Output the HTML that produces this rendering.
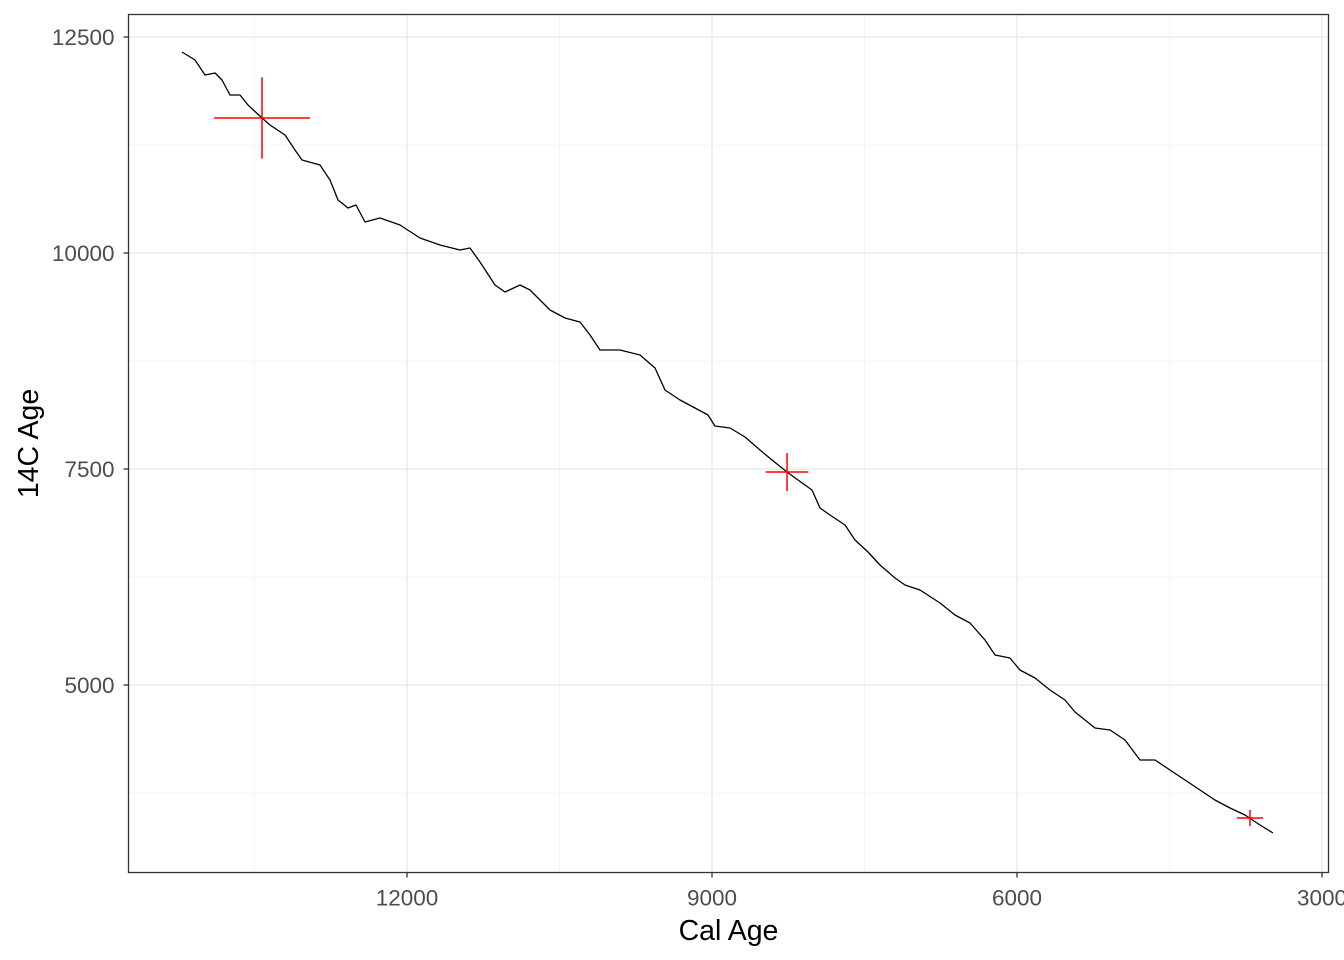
<!DOCTYPE html>
<html><head><meta charset="utf-8"><style>
html,body{margin:0;padding:0;background:#fff;}
svg{display:block;font-family:"Liberation Sans",Arial,sans-serif;}
</style></head><body>
<svg id="chart" width="1344" height="960" viewBox="0 0 1344 960"></svg>
<script>
const calAge=[14213,14085,13987,13888,13820,13741,13643,13564,13426,13348,13200,13102,13033,12856,12757,12679,12580,12502,12413,12266,12069,11872,11675,11479,11380,11282,11134,11036,10889,10790,10593,10446,10298,10200,10102,9905,9708,9561,9462,9315,9167,9039,8971,8823,8675,8528,8410,8262,8154,8016,7938,7839,7692,7593,7466,7348,7200,7102,6954,6757,6610,6462,6315,6216,6069,5971,5823,5675,5528,5430,5331,5233,5085,4938,4790,4643,4495,4348,4200,4053,3905,3757,3610,3482];
const c14Age=[12326,12234,12060,12083,12002,11829,11829,11713,11562,11481,11366,11192,11076,11018,10845,10613,10521,10556,10359,10405,10324,10174,10093,10035,10058,9896,9630,9549,9630,9572,9340,9248,9201,9051,8877,8877,8819,8669,8414,8299,8206,8125,7998,7975,7870,7720,7604,7465,7373,7257,7049,6968,6852,6678,6539,6389,6238,6157,6100,5949,5810,5718,5521,5347,5312,5174,5081,4942,4826,4688,4595,4502,4479,4363,4132,4132,4016,3900,3785,3669,3576,3495,3380,3287];
const crossCal=[13426,8262,3708];
const crossC14=[11562,7465,3461];
const crossCalErr=[472,210,128];
const crossC14Err=[470,220,93];
const xMajor=[12000,9000,6000,3000];
const xMinor=[13500,10500,7500,4500];
const yMajor=[12500,10000,7500,5000];
const yMinor=[11250,8750,6250,3750];

const L=128.5,R=1328.5,T=14.5,B=872.5;
const X=v=>407+(12000-v)*305/3000;
const Y=v=>685-(v-5000)*216/2500;
const svg=document.getElementById('chart');
const NS='http://www.w3.org/2000/svg';
function mk(t,a,p){const e=document.createElementNS(NS,t);for(const k in a)e.setAttribute(k,a[k]);(p||svg).appendChild(e);return e;}

const bg=mk('rect',{x:L,y:T,width:R-L,height:B-T,fill:'#fff'});


const grid=mk('g',{});


xMinor.forEach(v=>mk('line',{x1:X(v),x2:X(v),y1:T,y2:B,stroke:'#f2f2f2','stroke-width':0.8},grid));
yMinor.forEach(v=>mk('line',{x1:L,x2:R,y1:Y(v),y2:Y(v),stroke:'#f2f2f2','stroke-width':0.8},grid));
xMajor.forEach(v=>mk('line',{x1:X(v),x2:X(v),y1:T,y2:B,stroke:'#ebebeb','stroke-width':1.5},grid));
yMajor.forEach(v=>mk('line',{x1:L,x2:R,y1:Y(v),y2:Y(v),stroke:'#ebebeb','stroke-width':1.5},grid));

const pts=calAge.map((c,i)=>X(c).toFixed(1)+','+Y(c14Age[i]).toFixed(1)).join(' ');
const line=mk('polyline',{points:pts,fill:'none',stroke:'#000','stroke-width':1.3,'stroke-linejoin':'round'});



crossCal.forEach((c,i)=>{
  const g=mk('g',{});
  
  
  mk('line',{x1:X(c-crossCalErr[i]),x2:X(c+crossCalErr[i]),y1:Y(crossC14[i]),y2:Y(crossC14[i]),stroke:'#ff0000','stroke-width':1.5},g);
  mk('line',{x1:X(c),x2:X(c),y1:Y(crossC14[i]+crossC14Err[i]),y2:Y(crossC14[i]-crossC14Err[i]),stroke:'#ff0000','stroke-width':1.5},g);
});

const border=mk('rect',{x:L,y:T,width:R-L,height:B-T,fill:'none',stroke:'#333','stroke-width':1.3});



xMajor.forEach(v=>{
  mk('line',{x1:X(v),x2:X(v),y1:B,y2:B+5,stroke:'#333','stroke-width':1.3});
  const t=mk('text',{x:X(v),y:B+33,'text-anchor':'middle','font-size':22.5,fill:'#4d4d4d'});
  t.textContent=v;
  
  
});
yMajor.forEach(v=>{
  mk('line',{x1:L-5,x2:L,y1:Y(v),y2:Y(v),stroke:'#333','stroke-width':1.3});
  const t=mk('text',{x:L-14,y:Y(v)+8,'text-anchor':'end','font-size':22.5,fill:'#4d4d4d'});
  t.textContent=v;
  
  
});
const xt=mk('text',{x:(L+R)/2,y:940,'text-anchor':'middle','font-size':28.5,fill:'#000'});
xt.textContent='Cal Age';


const yt=mk('text',{x:0,y:0,'text-anchor':'middle','font-size':28.5,fill:'#000',transform:'translate(38,'+((T+B)/2)+') rotate(-90)'});
yt.textContent='14C Age';


</script>
</body></html>
